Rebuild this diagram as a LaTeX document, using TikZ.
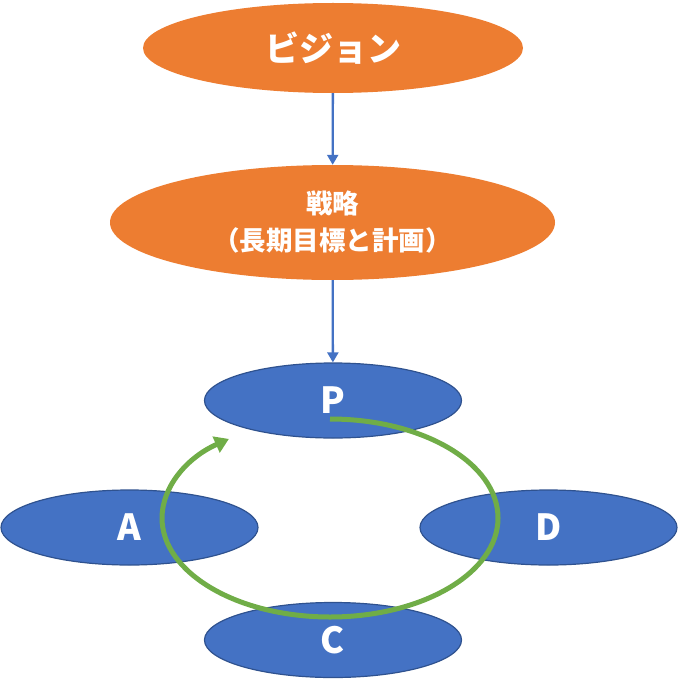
\documentclass[tikz,border=0pt]{standalone}
\usepackage{fontspec}
\setmainfont{Noto Sans CJK JP}
\usetikzlibrary{shapes.geometric,arrows.meta}
\definecolor{oran}{HTML}{ED7D31}
\definecolor{blu}{HTML}{4472C4}
\definecolor{bluedge}{HTML}{2F528F}
\definecolor{grn}{HTML}{70AD47}
\tikzset{
  orangeell/.style={ellipse, fill=oran, draw=none, inner sep=0pt, text=white, font=\bfseries, align=center},
  blueell/.style={ellipse, fill=blu, draw=bluedge, line width=1.2pt, inner sep=0pt, minimum width=257pt, minimum height=75pt, text=white, font=\bfseries\fontsize{36}{40}\selectfont},
  flowarrow/.style={draw=blu, line width=2.3pt, -{Triangle[length=10pt,width=11pt]}},
  cyclearrow/.style={draw=grn, line width=5pt, -{Triangle[length=14pt,width=17pt]}}
}
\begin{document}
\begin{tikzpicture}[x=1pt,y=-1pt]
\useasboundingbox (0,0) rectangle (677,687);
\node[orangeell, minimum width=380pt, minimum height=90pt, font=\bfseries\fontsize{34}{40}\selectfont] (vision) at (333,48) {ビジョン};
\node[orangeell, minimum width=445pt, minimum height=115pt, font=\bfseries\fontsize{26.5}{37}\selectfont] (strategy) at (332.5,222.5) {戦略\\（長期目標と計画）};
\node[blueell] (P) at (333,400.5) {P};
\node[blueell] (A) at (129.5,527.5) {A};
\node[blueell] (D) at (548.5,527.5) {D};
\node[blueell] (C) at (333,640) {C};
\draw[flowarrow] (vision) -- (strategy);
\draw[flowarrow] (strategy) -- (P);
\coordinate (cstart) at (330,419);
\draw[cyclearrow] (cstart) arc[start angle=-90, end angle=233, x radius=168, y radius=99];
\end{tikzpicture}
\end{document}
